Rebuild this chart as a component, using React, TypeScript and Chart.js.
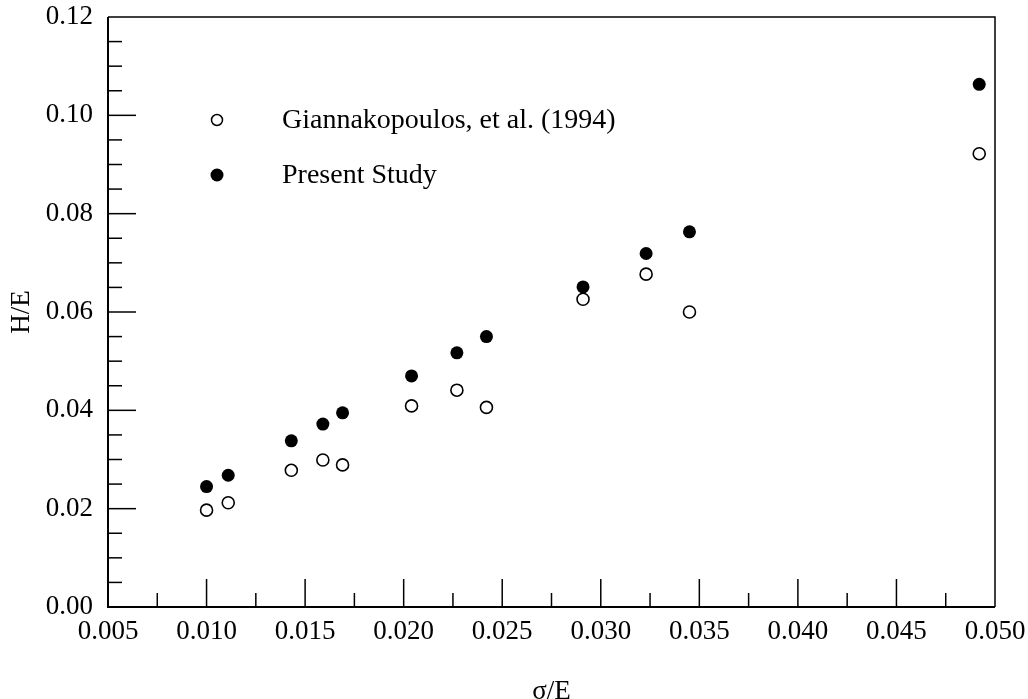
import React, { useEffect, useRef } from "react";
import { Chart, registerables } from "chart.js";

Chart.register(...registerables);

const sigmaOverE = [0.0100, 0.0111, 0.0143, 0.0159, 0.0169, 0.0204, 0.0227, 0.0242, 0.0291, 0.0323, 0.0345, 0.0492];
const giannakopoulos = [0.0197, 0.0212, 0.0278, 0.0299, 0.0289, 0.0409, 0.0441, 0.0406, 0.0626, 0.0677, 0.0600, 0.0922];
const presentStudy = [0.0245, 0.0268, 0.0338, 0.0372, 0.0395, 0.0470, 0.0517, 0.0550, 0.0651, 0.0719, 0.0763, 0.1063];

const xTickValues = [0.005, 0.010, 0.015, 0.020, 0.025, 0.030, 0.035, 0.040, 0.045, 0.050];
const xTickLabels = ["0.005", "0.010", "0.015", "0.020", "0.025", "0.030", "0.035", "0.040", "0.045", "0.050"];
const yTickValues = [0.00, 0.02, 0.04, 0.06, 0.08, 0.10, 0.12];
const yTickLabels = ["0.00", "0.02", "0.04", "0.06", "0.08", "0.10", "0.12"];

const seriesNames = ["Giannakopoulos, et al. (1994)", "Present Study"];
const xTitle = "σ/E";
const yTitle = "H/E";

const FONT = "'Liberation Serif', 'Times New Roman', serif";

const framePlugin = {
  id: "frameAndTicks",
  afterDatasetsDraw(chart: any) {
    const { ctx, chartArea, scales } = chart;
    const { left, right, top, bottom } = chartArea;
    const xs = scales.x;
    const ys = scales.y;
    ctx.save();
    ctx.strokeStyle = "#000";
    ctx.lineWidth = 1.5;
    ctx.beginPath();
    ctx.moveTo(left, top);
    ctx.lineTo(right, top);
    ctx.lineTo(right, bottom);
    ctx.stroke();
    ctx.lineWidth = 2;
    ctx.beginPath();
    ctx.moveTo(left, top);
    ctx.lineTo(left, bottom);
    ctx.lineTo(right, bottom);
    ctx.stroke();
    ctx.lineWidth = 1.5;
    for (let i = 0; i < xTickValues.length; i++) {
      const v = xTickValues[i];
      const px = xs.getPixelForValue(v);
      if (i > 0 && i < xTickValues.length - 1) {
        ctx.beginPath();
        ctx.moveTo(px, bottom);
        ctx.lineTo(px, bottom - 28);
        ctx.stroke();
      }
      if (i < xTickValues.length - 1) {
        const mv = (v + xTickValues[i + 1]) / 2;
        const mx = xs.getPixelForValue(mv);
        ctx.beginPath();
        ctx.moveTo(mx, bottom);
        ctx.lineTo(mx, bottom - 14);
        ctx.stroke();
      }
    }
    for (let i = 0; i < yTickValues.length; i++) {
      const v = yTickValues[i];
      const py = ys.getPixelForValue(v);
      if (i > 0 && i < yTickValues.length - 1) {
        ctx.beginPath();
        ctx.moveTo(left, py);
        ctx.lineTo(left + 28, py);
        ctx.stroke();
      }
      if (i < yTickValues.length - 1) {
        const step = (yTickValues[i + 1] - v) / 4;
        for (let k = 1; k < 4; k++) {
          const my = ys.getPixelForValue(v + step * k);
          ctx.beginPath();
          ctx.moveTo(left, my);
          ctx.lineTo(left + 14, my);
          ctx.stroke();
        }
      }
    }
    const lx = left + 109;
    const ly = [top + 103, top + 158];
    const tx = left + 174;
    ctx.font = `28px ${FONT}`;
    ctx.fillStyle = "#000";
    ctx.textBaseline = "middle";
    ctx.textAlign = "left";
    chart.data.datasets.forEach((ds: any, i: number) => {
      ctx.beginPath();
      ctx.arc(lx, ly[i], i === 0 ? 5.5 : 6.5, 0, Math.PI * 2);
      if (i === 0) {
        ctx.fillStyle = "#fff";
        ctx.fill();
        ctx.lineWidth = 1.5;
        ctx.strokeStyle = "#000";
        ctx.stroke();
      } else {
        ctx.fillStyle = "#000";
        ctx.fill();
      }
      ctx.fillStyle = "#000";
      ctx.fillText(ds.label, tx, ly[i] + 1);
    });
    ctx.restore();
  },
};

export default function App() {
  const ref = useRef<HTMLCanvasElement | null>(null);
  useEffect(() => {
    if (!ref.current) return;
    Chart.defaults.font.family = FONT;
    const chart = new Chart(ref.current, {
      type: "scatter",
      data: {
        datasets: [
          {
            label: seriesNames[0],
            data: sigmaOverE.map((x, i) => ({ x, y: giannakopoulos[i] })),
            pointRadius: 6,
            pointBackgroundColor: "#fff",
            pointBorderColor: "#000",
            pointBorderWidth: 1.6,
            showLine: false,
          },
          {
            label: seriesNames[1],
            data: sigmaOverE.map((x, i) => ({ x, y: presentStudy[i] })),
            pointRadius: 6.5,
            pointBackgroundColor: "#000",
            pointBorderColor: "#000",
            pointBorderWidth: 0,
            showLine: false,
          },
        ],
      },
      options: {
        animation: false,
        responsive: false,
        devicePixelRatio: 1,
        layout: { padding: { top: 17, right: 33, left: 0, bottom: 0 } },
        plugins: { legend: { display: false }, tooltip: { enabled: false } },
        scales: {
          x: {
            type: "linear",
            min: 0.005,
            max: 0.05,
            grid: { display: false, drawTicks: false },
            border: { display: false },
            afterBuildTicks: (s: any) => {
              s.ticks = xTickValues.map((v) => ({ value: v }));
            },
            afterFit: (s: any) => {
              s.height = 105;
              s.paddingLeft = 0;
              s.paddingRight = 0;
            },
            ticks: {
              padding: 9,
              color: "#000",
              font: { size: 27, family: FONT },
              maxRotation: 0,
              autoSkip: false,
              callback: (_v: any, i: number) => xTickLabels[i],
            },
            title: {
              display: true,
              text: xTitle,
              color: "#000",
              font: { size: 27, family: FONT },
              padding: { top: 0, bottom: 4 },
            },
          },
          y: {
            type: "linear",
            min: 0,
            max: 0.12,
            grid: { display: false, drawTicks: false },
            border: { display: false },
            afterBuildTicks: (s: any) => {
              s.ticks = yTickValues.map((v) => ({ value: v }));
            },
            afterFit: (s: any) => {
              s.width = 108;
              s.paddingTop = 0;
              s.paddingBottom = 0;
            },
            ticks: {
              padding: 15,
              color: "#000",
              font: { size: 27, family: FONT },
              autoSkip: false,
              callback: (_v: any, i: number) => yTickLabels[i],
            },
            title: {
              display: true,
              text: yTitle,
              color: "#000",
              font: { size: 27, family: FONT },
              padding: { top: 6, bottom: 0 },
            },
          },
        },
      },
      plugins: [framePlugin],
    } as any);
    return () => chart.destroy();
  }, []);
  return (
    <div
      style={{
        position: "fixed",
        left: 0,
        top: 0,
        width: 1028,
        height: 699,
        overflow: "hidden",
        background: "#fff",
      }}
    >
      <canvas ref={ref} width={1028} height={712} style={{ display: "block" }} />
    </div>
  );
}
